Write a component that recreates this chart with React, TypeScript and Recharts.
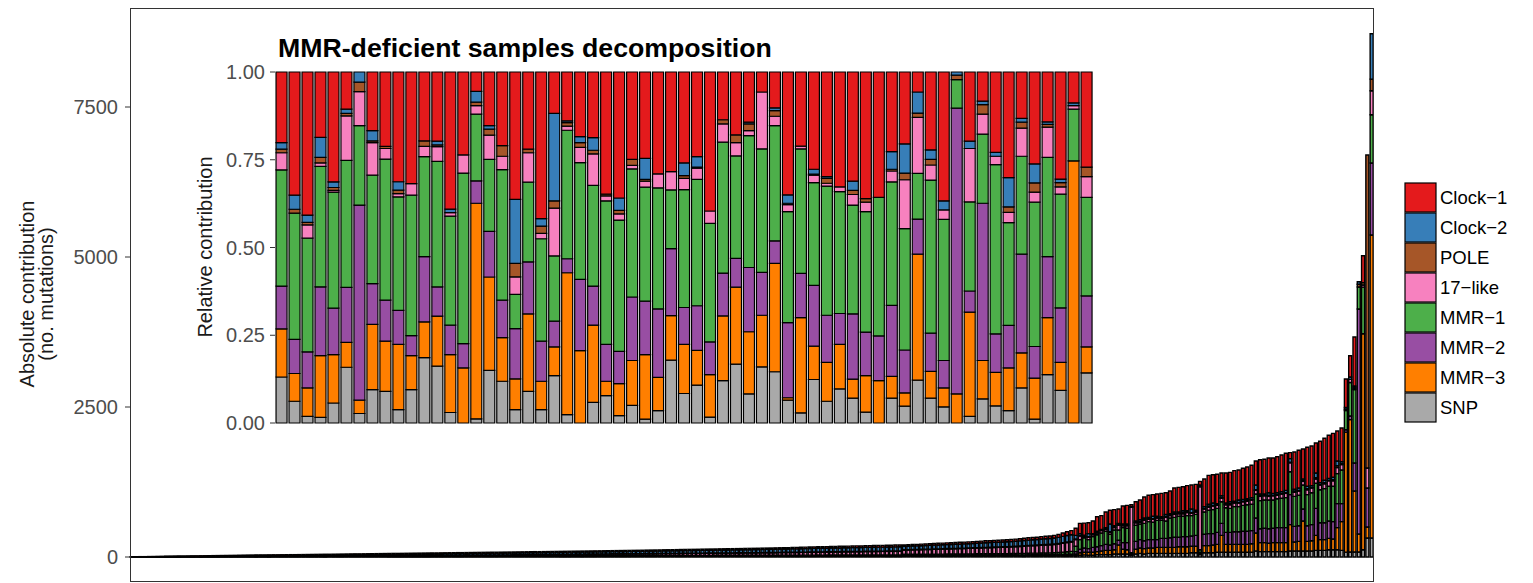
import React from 'react';
import { BarChart, Bar, XAxis, YAxis } from 'recharts';

// stack order bottom -> top
const seriesKeys = ['snp', 'mmr3', 'mmr2', 'mmr1', 'like17', 'pole', 'clock2', 'clock1'];
const seriesNames = ['SNP', 'MMR−3', 'MMR−2', 'MMR−1', '17−like', 'POLE', 'Clock−2', 'Clock−1'];
const seriesColors = ['#A9A9A9', '#FF7F00', '#984EA3', '#4DAF4A', '#F781BF', '#A65628', '#377EB8', '#E41A1C'];

const absTicks = [0, 2500, 5000, 7500];
const relTicks = [0, 0.25, 0.5, 0.75, 1];

// absolute contribution per tumour, sorted by total (290 samples)
const absClock1 = [
  1, 1, 1, 1, 1, 2, 2, 2, 2, 3,
  3, 3, 3, 3, 3, 4, 4, 4, 4, 5,
  5, 5, 5, 6, 6, 6, 6, 6, 7, 7,
  7, 7, 7, 7, 7, 7, 8, 8, 8, 8,
  8, 8, 9, 9, 9, 9, 9, 10, 10, 10,
  10, 10, 11, 11, 11, 11, 11, 12, 12, 12,
  12, 12, 12, 12, 13, 13, 13, 13, 13, 14,
  14, 14, 14, 14, 14, 14, 15, 15, 15, 15,
  15, 15, 15, 16, 16, 16, 16, 16, 17, 17,
  17, 17, 17, 17, 18, 18, 18, 18, 18, 18,
  15, 15, 15, 15, 15, 16, 16, 16, 16, 16,
  16, 16, 16, 16, 17, 17, 17, 17, 17, 17,
  17, 18, 18, 18, 18, 18, 18, 19, 19, 19,
  19, 19, 19, 20, 20, 20, 20, 20, 21, 21,
  21, 21, 21, 21, 22, 22, 22, 22, 22, 23,
  23, 23, 23, 24, 24, 24, 24, 25, 25, 25,
  25, 26, 26, 26, 26, 27, 27, 27, 27, 28,
  28, 28, 28, 29, 29, 29, 29, 30, 30, 30,
  24, 25, 25, 25, 26, 26, 27, 27, 28, 28,
  28, 29, 29, 30, 30, 30, 31, 31, 32, 33,
  33, 33, 34, 34, 35, 35, 36, 36, 37, 38,
  38, 39, 40, 41, 42, 44, 48, 56, 62, 68,
  120, 170, 200, 180, 210, 240, 230, 260, 230, 270,
  240, 300, 310, 30, 320, 330, 350, 370, 360, 370,
  390, 360, 380, 400, 410, 400, 420, 400, 430, 60,
  460, 480, 470, 490, 380, 500, 490, 510, 500, 520,
  530, 540, 400, 570, 580, 580, 590, 600, 610, 620,
  100, 620, 630, 500, 650, 660, 500, 690, 700, 720,
  730, 500, 560, 475, 355, 817, 0, 447, 0, 0,
];

const absClock2 = [
  1, 2, 2, 2, 3, 3, 3, 4, 4, 4,
  5, 5, 5, 6, 6, 6, 7, 7, 8, 8,
  9, 9, 9, 9, 10, 10, 10, 11, 11, 11,
  12, 12, 12, 13, 13, 13, 13, 14, 14, 14,
  15, 15, 15, 16, 16, 16, 16, 17, 17, 18,
  18, 18, 18, 18, 19, 19, 20, 20, 20, 21,
  21, 22, 22, 22, 22, 23, 23, 24, 24, 24,
  24, 24, 25, 25, 25, 26, 26, 26, 26, 27,
  27, 28, 28, 28, 29, 29, 29, 30, 30, 30,
  31, 31, 31, 32, 32, 32, 32, 33, 33, 34,
  33, 33, 34, 34, 34, 35, 35, 35, 36, 36,
  37, 37, 37, 38, 38, 38, 39, 39, 39, 40,
  40, 40, 41, 41, 42, 42, 43, 43, 44, 44,
  45, 45, 45, 46, 46, 47, 47, 48, 48, 48,
  49, 49, 50, 50, 50, 51, 51, 52, 52, 52,
  53, 54, 54, 55, 55, 56, 56, 57, 58, 58,
  59, 59, 60, 61, 61, 62, 62, 63, 64, 64,
  65, 65, 66, 66, 67, 67, 68, 68, 69, 69,
  57, 57, 58, 59, 60, 61, 62, 63, 64, 65,
  66, 67, 68, 69, 70, 71, 72, 73, 74, 76,
  76, 77, 78, 79, 80, 81, 82, 84, 86, 88,
  90, 91, 94, 95, 96, 98, 100, 104, 108, 112,
  60, 30, 15, 50, 10, 20, 15, 20, 130, 20,
  20, 20, 15, 10, 20, 30, 20, 20, 40, 20,
  20, 30, 20, 30, 20, 30, 20, 60, 20, 20,
  30, 30, 40, 20, 30, 20, 30, 20, 40, 30,
  20, 30, 80, 30, 20, 40, 30, 30, 30, 40,
  60, 30, 40, 30, 40, 30, 80, 30, 40, 30,
  40, 80, 30, 30, 40, 20, 40, 0, 0, 757,
];

const absPole = [
  0, 0, 0, 0, 0, 0, 0, 0, 1, 0,
  0, 1, 0, 0, 1, 0, 1, 0, 1, 1,
  1, 0, 1, 1, 0, 1, 1, 1, 1, 1,
  1, 1, 1, 1, 1, 1, 1, 1, 1, 1,
  1, 2, 1, 1, 2, 1, 1, 1, 2, 1,
  1, 2, 1, 1, 1, 2, 1, 1, 2, 2,
  2, 1, 1, 2, 2, 2, 2, 2, 2, 2,
  2, 2, 2, 2, 3, 2, 2, 2, 2, 2,
  2, 2, 2, 2, 2, 2, 2, 2, 2, 2,
  2, 2, 2, 2, 2, 2, 2, 2, 2, 2,
  3, 3, 3, 3, 3, 3, 3, 3, 3, 3,
  3, 3, 3, 3, 3, 3, 3, 3, 3, 3,
  3, 3, 3, 3, 3, 3, 3, 3, 3, 3,
  3, 3, 4, 4, 4, 4, 4, 4, 4, 4,
  4, 4, 4, 4, 4, 4, 4, 4, 4, 4,
  4, 4, 4, 4, 5, 5, 5, 5, 5, 5,
  5, 5, 5, 5, 5, 5, 5, 5, 5, 5,
  5, 5, 5, 5, 5, 5, 6, 6, 6, 6,
  6, 6, 6, 6, 6, 7, 7, 7, 7, 7,
  7, 7, 7, 7, 7, 7, 7, 8, 8, 8,
  8, 8, 8, 8, 8, 8, 8, 9, 9, 9,
  9, 9, 9, 10, 10, 10, 10, 10, 11, 11,
  10, 10, 5, 10, 10, 10, 5, 10, 10, 10,
  10, 10, 15, 0, 10, 10, 20, 10, 10, 10,
  10, 20, 10, 10, 10, 20, 10, 10, 10, 10,
  10, 20, 10, 10, 10, 10, 20, 10, 10, 10,
  20, 10, 10, 10, 10, 20, 10, 10, 10, 10,
  10, 20, 10, 10, 20, 10, 20, 10, 20, 10,
  20, 30, 20, 20, 0, 20, 47, 40, 5217, 195,
];

const abs17like = [
  1, 1, 1, 1, 1, 1, 1, 1, 2, 2,
  2, 2, 2, 2, 2, 3, 3, 3, 3, 3,
  3, 4, 4, 4, 4, 4, 5, 5, 5, 5,
  5, 5, 5, 5, 5, 6, 6, 6, 6, 6,
  6, 6, 7, 7, 7, 7, 7, 7, 7, 8,
  8, 8, 8, 8, 8, 8, 9, 9, 9, 9,
  9, 10, 10, 10, 10, 10, 10, 10, 11, 11,
  11, 11, 11, 11, 11, 12, 12, 12, 12, 12,
  12, 12, 13, 13, 13, 13, 13, 13, 13, 14,
  14, 14, 15, 15, 15, 15, 15, 15, 16, 16,
  23, 24, 24, 24, 25, 25, 25, 26, 26, 26,
  26, 27, 27, 27, 27, 28, 28, 28, 29, 29,
  30, 30, 30, 31, 31, 32, 32, 32, 33, 33,
  33, 34, 34, 34, 35, 35, 35, 36, 36, 37,
  37, 38, 38, 39, 39, 39, 40, 40, 41, 41,
  42, 43, 43, 44, 45, 45, 46, 46, 47, 48,
  48, 49, 49, 50, 51, 51, 52, 52, 53, 54,
  54, 55, 55, 56, 57, 57, 58, 58, 59, 60,
  70, 72, 73, 75, 76, 78, 79, 81, 82, 84,
  85, 86, 87, 89, 90, 92, 94, 95, 98, 100,
  101, 103, 105, 107, 108, 110, 113, 115, 119, 122,
  124, 126, 130, 132, 134, 138, 142, 148, 152, 156,
  110, 60, 25, 40, 30, 30, 40, 30, 30, 40,
  80, 30, 40, 760, 40, 30, 50, 40, 50, 40,
  30, 60, 40, 50, 40, 40, 50, 40, 40, 1050,
  50, 50, 60, 50, 60, 50, 60, 60, 60, 60,
  60, 70, 60, 70, 70, 60, 70, 60, 70, 70,
  150, 70, 70, 60, 80, 80, 70, 80, 80, 90,
  90, 100, 90, 0, 52, 20, 0, 35, 333, 398,
];

const absMmr1 = [
  0, 0, 1, 1, 1, 1, 1, 1, 1, 2,
  2, 2, 2, 2, 2, 2, 2, 3, 3, 3,
  3, 3, 3, 3, 3, 3, 3, 3, 3, 4,
  4, 4, 4, 4, 4, 4, 4, 4, 4, 5,
  5, 5, 5, 5, 5, 5, 5, 5, 5, 5,
  5, 5, 6, 6, 6, 6, 6, 6, 6, 6,
  6, 6, 6, 6, 6, 6, 7, 7, 7, 7,
  7, 7, 7, 7, 7, 7, 7, 7, 7, 7,
  8, 8, 8, 8, 8, 8, 8, 8, 8, 8,
  8, 9, 9, 9, 9, 9, 9, 9, 9, 9,
  8, 8, 8, 8, 8, 8, 8, 8, 8, 8,
  8, 8, 9, 9, 9, 9, 9, 9, 9, 9,
  9, 9, 9, 9, 10, 10, 10, 10, 10, 10,
  10, 10, 10, 10, 10, 10, 10, 11, 11, 11,
  11, 11, 11, 11, 11, 11, 11, 11, 11, 11,
  11, 11, 12, 12, 12, 12, 12, 12, 12, 13,
  13, 13, 13, 13, 13, 13, 14, 14, 14, 14,
  14, 14, 14, 14, 14, 15, 15, 15, 15, 15,
  16, 16, 17, 17, 17, 17, 18, 18, 18, 19,
  19, 19, 19, 19, 20, 20, 20, 21, 21, 21,
  21, 22, 22, 22, 23, 23, 24, 24, 25, 26,
  26, 27, 28, 28, 29, 30, 33, 38, 42, 46,
  90, 160, 170, 150, 180, 200, 210, 220, 180, 230,
  170, 250, 240, 20, 270, 260, 290, 300, 290, 320,
  300, 290, 330, 330, 350, 340, 350, 340, 350, 40,
  370, 390, 400, 400, 360, 410, 400, 420, 420, 430,
  440, 440, 400, 470, 470, 480, 470, 480, 490, 500,
  380, 500, 510, 400, 520, 530, 420, 550, 570, 580,
  590, 500, 560, 320, 558, 1223, 367, 777, 0, 805,
];

const absMmr2 = [
  0, 0, 0, 0, 0, 0, 1, 1, 1, 1,
  1, 1, 1, 1, 1, 1, 1, 1, 1, 1,
  1, 1, 1, 1, 2, 2, 2, 2, 2, 2,
  2, 2, 2, 2, 2, 2, 2, 2, 2, 2,
  2, 2, 2, 2, 2, 3, 3, 3, 3, 3,
  3, 3, 3, 3, 3, 3, 3, 3, 3, 3,
  3, 3, 3, 3, 3, 3, 3, 3, 3, 3,
  3, 3, 3, 4, 4, 4, 4, 4, 4, 4,
  4, 4, 4, 4, 4, 4, 4, 4, 4, 4,
  4, 4, 4, 4, 4, 4, 5, 5, 5, 5,
  4, 4, 4, 4, 4, 4, 4, 4, 4, 4,
  4, 4, 4, 4, 4, 4, 4, 4, 4, 4,
  5, 5, 5, 5, 5, 5, 5, 5, 5, 5,
  5, 5, 5, 5, 5, 5, 5, 5, 5, 5,
  5, 5, 5, 6, 6, 6, 6, 6, 6, 6,
  6, 6, 6, 6, 6, 6, 6, 6, 6, 6,
  6, 6, 6, 6, 6, 6, 6, 6, 6, 6,
  6, 7, 7, 7, 7, 7, 7, 7, 7, 7,
  8, 8, 8, 9, 9, 9, 9, 9, 9, 9,
  10, 10, 10, 10, 10, 10, 10, 10, 10, 10,
  10, 10, 10, 11, 11, 11, 11, 11, 12, 12,
  12, 12, 13, 13, 13, 14, 15, 16, 18, 19,
  40, 60, 70, 60, 80, 80, 90, 100, 90, 100,
  80, 110, 120, 10, 130, 140, 130, 140, 140, 130,
  150, 150, 160, 170, 160, 170, 170, 170, 180, 20,
  190, 200, 190, 200, 200, 200, 200, 210, 210, 220,
  220, 220, 250, 230, 240, 240, 240, 250, 250, 250,
  500, 260, 260, 200, 260, 270, 450, 280, 280, 290,
  290, 400, 300, 40, 60, 467, 3750, 0, 650, 1200,
];

const absMmr3 = [
  0, 0, 0, 0, 0, 0, 0, 0, 0, 0,
  0, 0, 0, 0, 0, 0, 0, 0, 0, 0,
  0, 0, 0, 0, 0, 0, 0, 0, 0, 0,
  0, 0, 1, 0, 0, 0, 0, 0, 0, 0,
  0, 0, 0, 0, 0, 1, 0, 0, 0, 0,
  0, 0, 0, 0, 0, 0, 0, 0, 0, 0,
  1, 1, 1, 1, 1, 1, 1, 1, 1, 1,
  1, 1, 1, 1, 1, 1, 1, 1, 2, 2,
  2, 2, 2, 2, 2, 2, 2, 2, 2, 2,
  2, 2, 2, 2, 2, 2, 2, 2, 2, 2,
  2, 2, 2, 2, 2, 2, 2, 2, 2, 3,
  3, 3, 3, 3, 3, 3, 3, 3, 3, 3,
  3, 3, 3, 3, 3, 3, 3, 3, 3, 4,
  4, 4, 4, 4, 4, 4, 4, 4, 4, 4,
  4, 4, 4, 4, 4, 4, 4, 5, 5, 5,
  5, 5, 5, 5, 5, 5, 5, 5, 5, 5,
  5, 5, 5, 5, 5, 5, 5, 5, 5, 5,
  5, 5, 5, 5, 5, 5, 5, 5, 5, 5,
  7, 7, 7, 7, 7, 7, 7, 8, 8, 8,
  8, 8, 8, 8, 8, 9, 9, 9, 9, 9,
  9, 9, 9, 9, 9, 10, 10, 11, 11, 11,
  12, 12, 12, 12, 12, 12, 13, 14, 15, 15,
  25, 40, 45, 50, 50, 50, 60, 70, 70, 70,
  150, 80, 70, 10, 80, 90, 90, 90, 90, 100,
  100, 100, 100, 100, 110, 110, 110, 110, 110, 20,
  120, 120, 130, 130, 280, 130, 130, 130, 130, 130,
  130, 140, 300, 150, 150, 140, 150, 150, 150, 150,
  440, 150, 160, 500, 160, 170, 250, 180, 180, 190,
  180, 370, 480, 2000, 2207, 1017, 300, 3600, 183, 5050,
];

const absSnp = [
  1, 1, 1, 1, 1, 1, 1, 1, 1, 1,
  1, 1, 2, 2, 2, 2, 1, 2, 2, 2,
  2, 3, 3, 3, 3, 3, 3, 3, 3, 3,
  3, 3, 3, 4, 4, 4, 4, 4, 4, 4,
  4, 4, 4, 4, 4, 4, 5, 4, 4, 4,
  5, 5, 5, 5, 5, 5, 5, 5, 5, 5,
  5, 5, 5, 5, 5, 5, 5, 5, 5, 5,
  6, 6, 6, 6, 6, 6, 6, 6, 6, 6,
  6, 6, 6, 6, 6, 6, 7, 7, 7, 7,
  7, 7, 7, 7, 7, 7, 7, 7, 7, 7,
  6, 6, 6, 7, 7, 6, 7, 7, 7, 7,
  7, 7, 7, 7, 7, 7, 7, 8, 8, 8,
  8, 8, 8, 8, 8, 8, 8, 8, 8, 8,
  8, 8, 8, 8, 8, 8, 9, 8, 8, 8,
  8, 8, 8, 8, 8, 8, 8, 8, 8, 8,
  8, 8, 8, 7, 7, 7, 8, 8, 8, 8,
  9, 8, 9, 9, 9, 9, 9, 9, 9, 9,
  9, 9, 9, 9, 9, 9, 8, 8, 8, 8,
  14, 14, 14, 13, 13, 13, 12, 12, 12, 12,
  12, 12, 13, 13, 13, 13, 13, 13, 13, 13,
  14, 14, 14, 14, 14, 14, 14, 14, 13, 14,
  14, 14, 14, 14, 14, 14, 14, 14, 12, 13,
  25, 30, 35, 30, 30, 40, 40, 40, 40, 50,
  50, 50, 50, 30, 50, 60, 50, 60, 60, 60,
  60, 60, 60, 60, 60, 60, 60, 70, 70, 40,
  70, 70, 70, 80, 80, 80, 80, 80, 80, 80,
  80, 80, 100, 90, 90, 90, 90, 90, 90, 90,
  100, 100, 100, 100, 100, 100, 110, 110, 110, 120,
  120, 120, 110, 82, 83, 83, 83, 121, 317, 317,
];

// relative contribution (%) of the 63 MMR-deficient samples
const relClock1 = [
  20.1, 35.1, 40.8, 18.6, 31.3, 10.6, 0, 16.7, 21.2, 31.3,
  31.8, 19.6, 19.7, 39.1, 23.6, 5.5, 15.3, 21.0, 36.3, 22.0,
  41.8, 11.8, 13.9, 18.4, 18.7, 34.8, 35.9, 24.9, 24.6, 29.0,
  28.4, 25.9, 24.1, 39.6, 13.6, 17.9, 14.3, 5.7, 10.2, 35.0,
  21.1, 27.7, 29.8, 32.7, 31.1, 36.1, 35.7, 22.7, 20.5, 5.7,
  22.2, 36.7, 0, 19.7, 8.3, 22.9, 30.1, 13.2, 26.2, 14.2,
  30.5, 8.8, 27.1,
];
const relClock2 = [
  1.9, 4.0, 2.1, 5.7, 1.6, 1.2, 2.9, 2.9, 0, 2.4,
  0, 0, 1.1, 1.0, 0, 3.1, 1.0, 0, 18.3, 0,
  2.1, 24.9, 0.5, 1.7, 3.6, 0, 3.5, 0, 6.0, 0,
  0, 3.6, 3.0, 0, 0, 0, 0.5, 0, 0.8, 2.4,
  0, 1.4, 0.5, 0, 2.6, 0, 0, 5.0, 8.3, 6.0,
  2.7, 2.6, 0.9, 2.1, 1.0, 1.1, 8.3, 1.1, 5.4, 0.7,
  1.0, 0.8, 0,
];
const relPole = [
  1.0, 1.1, 0.7, 1.6, 0.8, 0.7, 2.7, 0.5, 0.6, 1.0,
  0, 1.6, 0.5, 0, 0, 1.0, 1.7, 3.0, 3.8, 1.0,
  2.1, 2.1, 1.0, 1.4, 1.0, 0.5, 1.0, 1.7, 0.5, 0,
  0, 0.8, 0.3, 0, 1.2, 2.2, 1.9, 0, 1.6, 0.4,
  0, 0.3, 1.4, 0, 1.2, 1.0, 0, 0.5, 1.9, 1.2,
  1.6, 0, 1.3, 0, 2.7, 0, 1.6, 1.7, 2.6, 0.8,
  1.2, 0, 2.7,
];
const rel17like = [
  4.9, 0, 3.8, 1.0, 0.5, 12.7, 9.7, 9.3, 3.0, 0.9,
  3.3, 2.9, 4.2, 1.0, 5.2, 2.4, 6.9, 3.8, 5.0, 8.4,
  1.5, 13.6, 1.2, 4.3, 9.0, 1.4, 1.8, 1.0, 1.7, 4.0,
  5.2, 3.2, 3.2, 3.5, 5.2, 3.8, 1.4, 16.2, 2.7, 2.0,
  0.8, 2.1, 0.8, 1.4, 3.0, 2.7, 0, 3.1, 13.9, 16.0,
  4.3, 2.7, 0, 15.2, 5.7, 2.4, 2.9, 8.0, 2.9, 8.6,
  2.1, 1.0, 5.9,
];
const relMmr1 = [
  33.1, 36.0, 32.4, 34.3, 33.1, 36.2, 22.6, 30.9, 40.2, 32.4,
  40.0, 28.5, 35.8, 31.1, 48.6, 19.0, 20.5, 37.2, 9.8, 22.7,
  29.2, 18.6, 36.6, 33.3, 28.7, 40.9, 37.4, 36.5, 32.5, 34.5,
  16.7, 33.6, 36.0, 33.8, 37.3, 29.2, 37.6, 35.2, 32.8, 31.6,
  35.5, 29.3, 36.8, 34.7, 31.0, 34.3, 39.5, 35.2, 34.6, 13.0,
  43.6, 40.2, 8.1, 25.4, 19.7, 48.2, 29.3, 27.9, 41.1, 28.3,
  32.4, 14.7, 28.1,
];
const relMmr2 = [
  12.2, 9.7, 10.3, 19.6, 13.2, 15.7, 55.6, 11.6, 11.7, 9.7,
  5.7, 18.6, 8.3, 8.4, 6.9, 6.4, 13.0, 10.7, 14.3, 14.8,
  11.4, 7.3, 4.0, 20.3, 11.1, 10.5, 9.2, 18.1, 15.2, 19.5,
  19.1, 10.5, 12.7, 9.3, 12.2, 8.2, 18.3, 12.2, 6.4, 21.4,
  12.6, 17.3, 13.4, 8.8, 18.6, 12.4, 12.7, 20.2, 12.2, 10.0,
  10.9, 7.8, 81.4, 6.0, 44.8, 11.0, 12.1, 28.1, 9.0, 17.4,
  15.5, 0, 14.5,
];
const relMmr3 = [
  13.7, 7.9, 8.1, 17.6, 13.8, 7.1, 3.8, 18.6, 14.3, 18.6,
  9.7, 10.2, 14.3, 16.5, 15.7, 61.4, 26.6, 12.4, 8.8, 22.1,
  8.1, 8.2, 40.4, 20.6, 22.0, 4.1, 9.1, 12.8, 18.4, 9.5,
  12.7, 14.0, 9.9, 12.1, 18.4, 21.9, 17.7, 14.7, 30.9, 0.7,
  27.1, 9.5, 11.1, 12.7, 5.4, 10.4, 12.1, 6.2, 3.8, 35.9,
  7.6, 5.4, 8.3, 29.7, 10.9, 9.5, 12.2, 10.0, 11.7, 16.2,
  8.0, 74.7, 7.4,
];
const relSnp = [
  13.1, 6.2, 1.9, 1.6, 5.7, 15.9, 2.7, 9.5, 9.0, 3.8,
  9.5, 18.6, 16.2, 3.0, 0, 1.2, 15.0, 11.9, 3.8, 9.0,
  3.8, 13.5, 2.4, 0, 5.9, 7.8, 2.1, 5.0, 1.1, 3.5,
  17.9, 8.4, 10.8, 1.7, 12.1, 16.8, 8.3, 16.0, 14.6, 6.5,
  2.9, 12.4, 6.2, 9.7, 7.1, 3.1, 0, 7.1, 4.8, 12.2,
  7.1, 4.6, 0, 1.9, 6.9, 4.9, 3.5, 10.0, 1.1, 13.8,
  9.3, 0, 14.3,
];

const absSeries = [absSnp, absMmr3, absMmr2, absMmr1, abs17like, absPole, absClock2, absClock1];
const relSeries = [relSnp, relMmr3, relMmr2, relMmr1, rel17like, relPole, relClock2, relClock1];

const buildRows = (series: number[][], prefix: string) =>
  series[0].map((_, i) => {
    const row: Record<string, number | string> = { sample: `${prefix}${i + 1}` };
    seriesKeys.forEach((k, j) => {
      row[k] = series[j][i];
    });
    return row;
  });

const absData = buildRows(absSeries, 'T');
const relData = buildRows(relSeries, 'M');

const FONT = "'Liberation Sans', Arial, Helvetica, sans-serif";
const tickStyle = { fill: '#4D4D4D', fontSize: 20, fontFamily: FONT };

export default function App() {
  return (
    <div style={{ position: 'absolute', left: 0, top: 0, width: 1533, height: 583, background: '#fff', fontFamily: FONT }}>
      {/* main chart: absolute contribution */}
      <div style={{ position: 'absolute', left: 0, top: 0 }}>
        <BarChart
          width={1533}
          height={583}
          data={absData}
          margin={{ top: 8, right: 159, bottom: 2, left: 0 }}
          barCategoryGap="10%"
        >
          <XAxis dataKey="sample" hide />
          <YAxis
            type="number"
            width={130}
            domain={[-400, 9150]}
            allowDataOverflow
            ticks={absTicks}
            interval={0}
            axisLine={false}
            tickSize={5}
            tickMargin={7}
            tickLine={{ stroke: '#333333' }}
            tick={tickStyle}
          />
          {seriesKeys.map((k, j) => (
            <Bar
              key={k}
              dataKey={k}
              stackId="abs"
              fill={seriesColors[j]}
              stroke="#000"
              strokeWidth={1.4}
              isAnimationActive={false}
            />
          ))}
        </BarChart>
      </div>
      <div
        style={{
          position: 'absolute',
          left: 130,
          top: 8,
          width: 1244,
          height: 574,
          border: '1px solid #333',
          boxSizing: 'border-box',
          pointerEvents: 'none',
        }}
      />

      {/* inset: relative contribution */}
      <div style={{ position: 'absolute', left: 0, top: 0 }}>
        <BarChart
          width={1110}
          height={440}
          data={relData}
          stackOffset="expand"
          margin={{ top: 72, right: 17, bottom: 17, left: 0 }}
          barCategoryGap="8%"
        >
          <XAxis dataKey="sample" hide />
          <YAxis
            type="number"
            width={275}
            domain={[0, 1]}
            ticks={relTicks}
            interval={0}
            axisLine={false}
            tickSize={5}
            tickMargin={5}
            tickLine={{ stroke: '#333333' }}
            tick={tickStyle}
            tickFormatter={(v: number) => v.toFixed(2)}
          />
          {seriesKeys.map((k, j) => (
            <Bar
              key={k}
              dataKey={k}
              stackId="rel"
              fill={seriesColors[j]}
              stroke="#000"
              strokeWidth={1.2}
              isAnimationActive={false}
            />
          ))}
        </BarChart>
      </div>

      {/* titles and legend */}
      <svg width={1533} height={583} style={{ position: 'absolute', left: 0, top: 0, pointerEvents: 'none' }}>
        <g fontFamily={FONT} fontSize={20} fill="#1a1a1a" textAnchor="middle">
          <text transform="translate(34,294) rotate(-90)">Absolute contribution</text>
          <text transform="translate(53,294) rotate(-90)">(no. mutations)</text>
          <text transform="translate(212,247) rotate(-90)">Relative contribution</text>
        </g>
        <text x={278} y={57} fontFamily={FONT} fontSize={26.7} fontWeight="bold" fill="#000">
          MMR-deficient samples decomposition
        </text>
        {seriesKeys
          .map((k, j) => ({ k, name: seriesNames[j], color: seriesColors[j] }))
          .reverse()
          .map((item, n) => (
            <g key={item.k}>
              <rect x={1405} y={183 + n * 30} width={31} height={29} fill={item.color} stroke="#000" strokeWidth={1.2} />
              <text x={1440} y={204 + n * 30} fontFamily={FONT} fontSize={18.5} fill="#000">
                {item.name}
              </text>
            </g>
          ))}
      </svg>
    </div>
  );
}
